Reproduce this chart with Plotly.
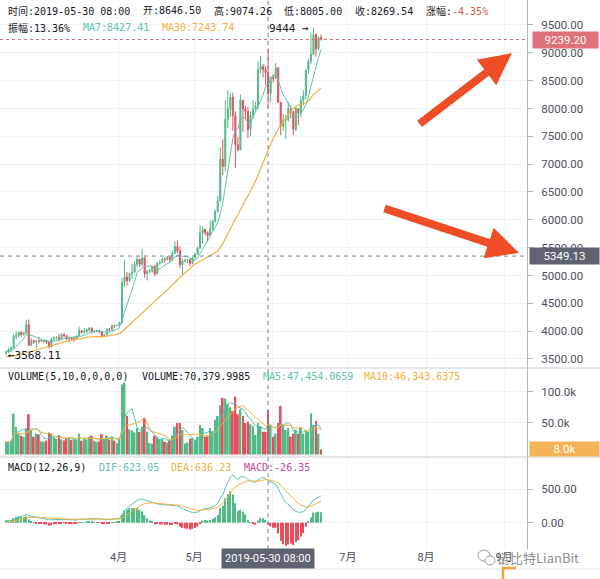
import numpy as np
import pandas as pd
import plotly.graph_objects as go

# ---------------- data (BTC daily) ----------------
start_date = "2019-02-15 08:00"

feb_open  = [3600, 3617, 3667, 3700, 3905, 3920, 3975, 3935, 3965, 4115, 3745, 3830, 3810, 3820]
feb_high  = [3660, 3700, 3730, 3950, 4000, 3990, 4000, 3990, 4200, 4210, 3880, 3850, 3850, 3895]
feb_low   = [3568.11, 3607, 3640, 3690, 3860, 3880, 3900, 3920, 3945, 3730, 3730, 3770, 3690, 3780]
feb_close = [3617, 3667, 3700, 3905, 3920, 3975, 3935, 3965, 4115, 3745, 3830, 3810, 3820, 3815]
feb_vol   = [20500, 19000, 22000, 65000, 44000, 33000, 30000, 28000, 42000, 64000, 39000, 28000, 33000, 32000]

mar_open  = [3815, 3830, 3840, 3805, 3715, 3860, 3875, 3885, 3865, 3945, 3920, 3860, 3875, 3860, 3860, 3915,
             4010, 3980, 3985, 4025, 4055, 3990, 3995, 4005, 3985, 3920, 3935, 4040, 4025, 4100, 4095]
mar_high  = [3870, 3850, 3840, 3825, 3880, 3905, 3910, 3945, 3960, 3950, 3925, 3900, 3890, 3915, 3930, 4080,
             4015, 4050, 4040, 4070, 4070, 4010, 4020, 4010, 3990, 3950, 4050, 4060, 4120, 4120, 4120]
mar_low   = [3810, 3780, 3770, 3690, 3705, 3830, 3850, 3820, 3855, 3890, 3835, 3800, 3830, 3810, 3850, 3905,
             3960, 3960, 3975, 3995, 3950, 3970, 3980, 3965, 3880, 3900, 3920, 4000, 4020, 4050, 4090]
mar_close = [3830, 3840, 3805, 3715, 3860, 3875, 3885, 3865, 3945, 3920, 3860, 3875, 3860, 3860, 3915, 4010,
             3980, 3985, 4025, 4055, 3990, 3995, 4005, 3985, 3920, 3935, 4040, 4025, 4100, 4095, 4105]
mar_vol   = [21000, 20000, 22000, 35000, 33000, 27000, 25000, 30000, 24000, 22000, 26000, 27000, 23000, 25000,
             24000, 33000, 22000, 26000, 24000, 28000, 30000, 22000, 20000, 21000, 32000, 25000, 30000, 24000,
             29000, 22000, 18000]

apr_open  = [4105, 4150, 4880, 4975, 4905, 5035, 5060, 5200, 5290, 5200, 5315, 5030, 5075, 5080, 5160, 5030,
             5220, 5235, 5290, 5285, 5330, 5290, 5400, 5520, 5440, 5190, 5260, 5270, 5285, 5215]
apr_high  = [4170, 4950, 5280, 5060, 5050, 5220, 5250, 5330, 5300, 5470, 5340, 5100, 5120, 5180, 5190, 5240,
             5270, 5320, 5330, 5350, 5350, 5450, 5610, 5630, 5520, 5300, 5300, 5300, 5300, 5330]
apr_low   = [4080, 4140, 4800, 4820, 4880, 4930, 5050, 5150, 5150, 5170, 4960, 4910, 5040, 5050, 4990, 5020,
             5190, 5220, 5230, 5270, 5230, 5250, 5390, 5400, 5130, 5000, 5230, 5220, 5170, 5200]
apr_close = [4150, 4880, 4975, 4905, 5035, 5060, 5200, 5290, 5200, 5315, 5030, 5075, 5080, 5160, 5030, 5220,
             5235, 5290, 5285, 5330, 5290, 5400, 5520, 5440, 5190, 5260, 5270, 5285, 5215, 5315]
apr_vol   = [25000, 111000, 114000, 61000, 40000, 38000, 35000, 42000, 36000, 44000, 58000, 36000, 18000,
             17000, 30000, 28000, 24000, 25000, 20000, 19000, 22000, 30000, 44000, 50000, 50000, 39000, 17000,
             19000, 25000, 26000]

may_open  = [5315, 5385, 5490, 5760, 5830, 5770, 5720, 5840, 5975, 6150, 6340, 7090, 6960, 7800, 7990, 8200,
             7880, 7350, 7260, 8150, 7990, 7950, 7620, 7880, 7990, 8050, 8700, 8760, 8700, 8646.50, 8269.54]
may_high  = [5400, 5520, 5900, 5880, 5840, 5790, 5990, 6000, 6180, 6430, 7300, 7450, 8150, 8330, 8280, 8280,
             7950, 7490, 8250, 8150, 8050, 8030, 7950, 8150, 8120, 8850, 8940, 8800, 8760, 9074.26, 8580]
may_low   = [5310, 5370, 5480, 5570, 5720, 5600, 5710, 5810, 5950, 6130, 6330, 6800, 6870, 7650, 7850, 7600,
             6930, 7230, 7250, 7580, 7800, 7470, 7500, 7810, 7950, 7990, 8630, 8560, 8420, 8005.00, 8110]
may_close = [5385, 5490, 5760, 5830, 5770, 5720, 5840, 5975, 6150, 6340, 7090, 6960, 7800, 7990, 8200, 7880,
             7350, 7260, 8150, 7990, 7950, 7620, 7880, 7990, 8050, 8700, 8760, 8700, 8646.50, 8269.54, 8555]
may_vol   = [22000, 28000, 47000, 42000, 28000, 30000, 42000, 36000, 55000, 61000, 78000, 90000, 89000,
             80000, 75000, 69000, 92000, 64000, 72000, 61000, 50000, 52000, 48000, 45000, 31000, 50000, 45000,
             36000, 36000, 70379.9985, 47000]

jun_open  = [8555, 8545, 8730, 8110, 7680, 7790, 7800, 8000, 7935, 7625, 8000, 7920, 8150, 8225, 8690, 8850,
             8975, 9330, 9075, 9270]
jun_high  = [8610, 8820, 8740, 8120, 7900, 7880, 8120, 8050, 7960, 8050, 8010, 8220, 8330, 8700, 8900, 9350,
             9444, 9340, 9300, 9330]
jun_low   = [8470, 8530, 8100, 7520, 7600, 7450, 7760, 7820, 7520, 7590, 7700, 7840, 8060, 8170, 8620, 8800,
             8960, 8930, 9040, 9220]
jun_close = [8545, 8730, 8110, 7680, 7790, 7800, 8000, 7935, 7625, 8000, 7920, 8150, 8225, 8690, 8850, 8975,
             9330, 9075, 9270, 9239.20]
jun_vol   = [28000, 33000, 50000, 77000, 47000, 39000, 42000, 28000, 33000, 39000, 33000, 42000, 33000,
             39000, 36000, 65000, 47000, 53000, 33000, 8000]

# closes of the 30 days before the window (needed for MA30 / MACD warm-up)
prior_close = [3620, 3640, 3590, 3700, 3540, 3560, 3575, 3555, 3585, 3570, 3575, 3550, 3440, 3410, 3460,
               3440, 3465, 3500, 3420, 3410, 3440, 3400, 3380, 3660, 3665, 3685, 3630, 3630, 3615, 3595]

crosshair_date = "2019-05-30 08:00"
crosshair_price = 5349.13

price_ticks = [3500, 4000, 4500, 5000, 5500, 6000, 6500, 7000, 7500, 8000, 8500, 9000, 9500]
vol_tickvals = [50000, 100000]
vol_ticktext = ["50.0k", "100.0k"]
macd_ticks = [0, 500]
month_ticks = ["2019-04-01", "2019-05-01", "2019-06-01", "2019-07-01", "2019-08-01", "2019-09-01"]
month_labels = ["4月", "5月", "", "7月", "8月", "9月"]   # 6月 sits under the crosshair label

header1 = [("时间:2019-05-30 08:00", 7, None), ("开:8646.50", 142, None), ("高:9074.26", 213, None),
           ("低:8005.00", 283, None), ("收:8269.54", 354, None),
           ("涨幅:<span style='color:#d0574f'>-4.35%</span>", 425, None)]
header2 = [("振幅:13.36%", 7, None), ("MA7:8427.41", 82, "teal"), ("MA30:7243.74", 161, "orange")]
header_vol = [("VOLUME(5,10,0,0,0,0)", 7, None), ("VOLUME:70,379.9985", 141, None),
              ("MA5:47,454.0659", 262, "teal"), ("MA10:46,343.6375", 363, "orange")]
header_macd = [("MACD(12,26,9)", 7, None), ("DIF:623.05", 98, "teal"), ("DEA:636.23", 170, "orange"),
               ("MACD:-26.35", 243, "magenta")]

# ---------------- assemble ----------------
o = np.array(feb_open + mar_open + apr_open + may_open + jun_open, dtype=float)
h = np.array(feb_high + mar_high + apr_high + may_high + jun_high, dtype=float)
l = np.array(feb_low + mar_low + apr_low + may_low + jun_low, dtype=float)
c = np.array(feb_close + mar_close + apr_close + may_close + jun_close, dtype=float)
v = np.array(feb_vol + mar_vol + apr_vol + may_vol + jun_vol, dtype=float)
dates = pd.date_range(start_date, periods=len(c), freq="D")

n0 = len(prior_close)
all_c = pd.Series(list(prior_close) + list(c))
ma7 = all_c.rolling(7).mean().iloc[n0:].values
ma30 = all_c.rolling(30).mean().iloc[n0:].values
ema12 = all_c.ewm(span=12, adjust=False).mean()
ema26 = all_c.ewm(span=26, adjust=False).mean()
dif_all = ema12 - ema26
dea_all = dif_all.ewm(span=9, adjust=False).mean()
dif = dif_all.iloc[n0:].values
dea = dea_all.iloc[n0:].values
macd = 2 * (dif - dea)

vs = pd.Series(v)
vma5 = vs.rolling(5, min_periods=1).mean().values
vma10 = vs.rolling(10, min_periods=1).mean().values

# ---------------- style ----------------
UP = "#53b987"
DN = "#eb4d5c"
TEAL = "#5cc2b2"
ORANGE = "#f2b23e"
MAGENTA = "#c2489a"
AXIS = "#b2b5be"
GRID = "#f0f2f6"
TXT = "#131722"
LBL = "#4c505b"
colmap = {None: TXT, "teal": TEAL, "orange": ORANGE, "magenta": MAGENTA}

W, H = 600, 579
ML, MR, MT, MB = 0, 73, 0, 30
PW = W - ML - MR
PH = H - MT - MB


def px(x):
    return (x - ML) / PW


def py(y):
    return 1 - (y - MT) / PH


DAY = 86400000
up = c >= o
vol_colors = [UP if u else DN for u in up]
macd_colors = [UP if m >= 0 else DN for m in macd]

fig = go.Figure()
fig.add_trace(go.Candlestick(
    x=dates, open=o, high=h, low=l, close=c,
    increasing=dict(line=dict(color=UP, width=1), fillcolor=UP),
    decreasing=dict(line=dict(color=DN, width=1), fillcolor=DN),
    whiskerwidth=0, xaxis="x", yaxis="y", hoverinfo="skip"))
fig.add_trace(go.Scatter(x=dates, y=ma7, mode="lines", line=dict(color=TEAL, width=1),
                         xaxis="x", yaxis="y", hoverinfo="skip"))
fig.add_trace(go.Scatter(x=dates, y=ma30, mode="lines", line=dict(color=ORANGE, width=1.2),
                         xaxis="x", yaxis="y", hoverinfo="skip"))

fig.add_trace(go.Bar(x=dates, y=v, marker=dict(color=vol_colors, line=dict(width=0)),
                     width=0.72 * DAY, xaxis="x2", yaxis="y2", hoverinfo="skip"))
fig.add_trace(go.Scatter(x=dates, y=vma5, mode="lines", line=dict(color=TEAL, width=1),
                         xaxis="x2", yaxis="y2", hoverinfo="skip"))
fig.add_trace(go.Scatter(x=dates, y=vma10, mode="lines", line=dict(color=ORANGE, width=1),
                         xaxis="x2", yaxis="y2", hoverinfo="skip"))

fig.add_trace(go.Bar(x=dates, y=macd, marker=dict(color=macd_colors, line=dict(width=0)),
                     width=0.55 * DAY, xaxis="x3", yaxis="y3", hoverinfo="skip"))
fig.add_trace(go.Scatter(x=dates, y=dif, mode="lines", line=dict(color=TEAL, width=1),
                         xaxis="x3", yaxis="y3", hoverinfo="skip"))
fig.add_trace(go.Scatter(x=dates, y=dea, mode="lines", line=dict(color=ORANGE, width=1),
                         xaxis="x3", yaxis="y3", hoverinfo="skip"))

xrange = ["2019-02-12 22:00", "2019-09-10 02:00"]
d_main = [py(368), 1]
d_vol = [py(457), py(368)]
d_macd = [0, py(457)]

xcommon = dict(type="date", range=xrange, showgrid=True, gridcolor=GRID, gridwidth=1,
               tickmode="array", tickvals=month_ticks, ticktext=month_labels,
               zeroline=False, showline=False, fixedrange=True)
ycommon = dict(side="right", showline=True, linecolor=AXIS, linewidth=1, ticks="outside",
               ticklen=5, tickcolor=AXIS, showgrid=True, gridcolor=GRID, zeroline=False,
               tickfont=dict(family="Roboto", size=11.5, color=LBL), ticklabelstandoff=6)

fig.update_layout(
    width=W, height=H, margin=dict(l=ML, r=MR, t=MT, b=MB, autoexpand=False),
    paper_bgcolor="white", plot_bgcolor="white", showlegend=False,
    font=dict(family="Roboto", color=TXT), boxgap=0.4,
    xaxis=dict(xcommon, anchor="y", showticklabels=False, rangeslider=dict(visible=False)),
    xaxis2=dict(xcommon, anchor="y2", matches="x", showticklabels=False),
    xaxis3=dict(xcommon, anchor="y3", matches="x", showticklabels=True,
                ticks="", tickfont=dict(family="Roboto, Noto Sans CJK SC", size=11, color=LBL)),
    yaxis=dict(ycommon, domain=d_main, anchor="x", range=[3338, 9949], tickvals=price_ticks,
               tickformat=".2f"),
    yaxis2=dict(ycommon, domain=d_vol, anchor="x2", range=[-4000, 137300], tickvals=vol_tickvals,
                ticktext=vol_ticktext),
    yaxis3=dict(ycommon, domain=d_macd, anchor="x3", range=[-394, 983], tickvals=macd_ticks,
                tickformat=".2f"),
)

shapes = []
last_close = c[-1]
# current price dashed line
shapes.append(dict(type="line", xref="paper", x0=0, x1=1, yref="y", y0=last_close, y1=last_close,
                   line=dict(color="#d9707a", width=1, dash="3px,3px"), layer="above"))
# crosshair
shapes.append(dict(type="line", xref="paper", x0=0, x1=1, yref="y", y0=crosshair_price, y1=crosshair_price,
                   line=dict(color="#7d818a", width=1, dash="4px,4px"), layer="above"))
shapes.append(dict(type="line", xref="x", x0=crosshair_date, x1=crosshair_date, yref="paper", y0=0, y1=1,
                   line=dict(color="#7d818a", width=1, dash="4px,4px"), layer="above"))
# pane separators / border
for yy, col in [(368, "#c9ccd3"), (457, "#c9ccd3"), (569, "#e4e6eb")]:
    shapes.append(dict(type="line", xref="paper", x0=0, x1=px(W), yref="paper", y0=py(yy), y1=py(yy),
                       line=dict(color=col, width=1), layer="above"))
# watermark icon
shapes.append(dict(type="circle", xref="paper", yref="paper", x0=px(478), x1=px(490), y0=py(561), y1=py(550),
                   line=dict(color="#9b9b9b", width=1)))
shapes.append(dict(type="circle", xref="paper", yref="paper", x0=px(485), x1=px(495), y0=py(565), y1=py(556),
                   line=dict(color="#9b9b9b", width=1), fillcolor="white"))
shapes.append(dict(type="path", xref="paper", yref="paper",
                   path=f"M {px(503)},{py(579)} L {px(503)},{py(568)} L {px(516)},{py(568)}",
                   line=dict(color="#f2a53c", width=2.5)))
fig.update_layout(shapes=shapes)

ann = []
MONO = "DejaVu Sans Mono, Noto Sans CJK SC"
for row, ypix in [(header1, 11), (header2, 28), (header_vol, 376), (header_macd, 467)]:
    for text, xpix, col in row:
        ann.append(dict(text=text, x=px(xpix), y=py(ypix), xref="paper", yref="paper",
                        xanchor="left", yanchor="middle", showarrow=False, borderpad=0,
                        font=dict(family=MONO, size=10, color=colmap[col])))

# max / min markers
imax = int(np.argmax(h))
imin = int(np.argmin(l))
ann.append(dict(text=f"{h[imax]:.0f} →", x=dates[imax], y=h[imax], xref="x", yref="y", xanchor="right",
                yanchor="middle", xshift=-2, showarrow=False, font=dict(family=MONO, size=11, color=TXT)))
ann.append(dict(text=f"←{l[imin]:.2f}", x=dates[imin], y=l[imin], xref="x", yref="y", xanchor="left",
                yanchor="middle", xshift=0, showarrow=False, font=dict(family=MONO, size=11, color=TXT)))

# axis badges
badge_font = dict(family="Roboto", size=11.5, color="white")
ann.append(dict(text=f"{last_close:.2f}", x=px(532), y=last_close, xref="paper", yref="y", xanchor="left",
                yanchor="middle", showarrow=False, bgcolor="#e0707a", width=63, height=14, align="center",
                borderpad=1, font=badge_font))
ann.append(dict(text=f"{crosshair_price:.2f}", x=px(529), y=crosshair_price, xref="paper", yref="y",
                xanchor="left", yanchor="middle", showarrow=False, bgcolor="#5d6370", width=67, height=14,
                align="center", borderpad=1, font=badge_font))
ann.append(dict(text=f"{v[-1] / 1000:.1f}k", x=px(529), y=v[-1], xref="paper", yref="y2",
                xanchor="left", yanchor="middle", showarrow=False, bgcolor="#f4b354", width=67, height=12,
                align="center", borderpad=1, font=badge_font))
ann.append(dict(text=crosshair_date, x=crosshair_date, y=py(558), xref="x3", yref="paper",
                xanchor="center", yanchor="middle", showarrow=False, bgcolor="#5d6370", borderpad=3,
                font=dict(family="Roboto", size=11, color="white")))

# red arrows
for (tx, ty), (hx, hy) in [((418, 125), (512, 53)), ((383, 208), (519, 253))]:
    ann.append(dict(text="", x=px(hx), y=py(hy), xref="paper", yref="paper", showarrow=True,
                    ax=tx - hx, ay=ty - hy, arrowhead=2, arrowsize=0.8, arrowwidth=8,
                    arrowcolor="#ee4d25", standoff=0))

# watermark text
ann.append(dict(text="链比特LianBit", x=px(495), y=py(557), xref="paper", yref="paper", xanchor="left",
                yanchor="middle", showarrow=False,
                font=dict(family="Noto Sans CJK SC", size=13, color="#8e8e8e")))
fig.update_layout(annotations=ann)

fig.write_html("out.html", config={"displayModeBar": False},
               post_script="document.body.style.margin='0px';document.body.style.padding='0px';")
